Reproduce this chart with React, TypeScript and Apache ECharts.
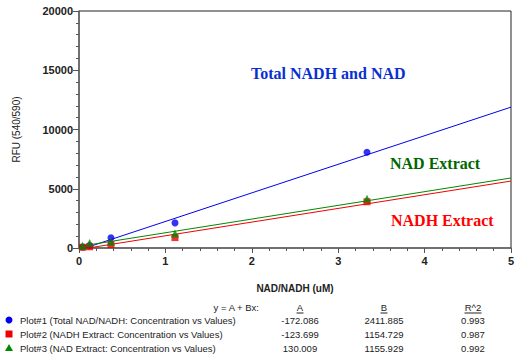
import React, { useEffect, useRef } from "react";
import * as echarts from "echarts";

const concentrations = [0.041, 0.123, 0.37, 1.111, 3.333];
const totalValues = [90, 200, 860, 2120, 8080];
const nadhValues = [60, 100, 290, 880, 3900];
const nadValues = [200, 420, 520, 1230, 4160];

const seriesNames = [
  "Plot#1 (Total NAD/NADH: Concentration vs Values)",
  "Plot#2 (NADH Extract: Concentration vs Values)",
  "Plot#3 (NAD Extract: Concentration vs Values)",
];
const fitA = [-172.086, -123.699, 130.009];
const fitB = [2411.885, 1154.729, 1155.929];
const fitAText = ["-172.086", "-123.699", "130.009"];
const fitBText = ["2411.885", "1154.729", "1155.929"];
const fitR2Text = ["0.993", "0.987", "0.992"];

const xTicks = [0, 1, 2, 3, 4, 5];
const yTicks = [0, 5000, 10000, 15000, 20000];

const colors = ["#0000ee", "#ee0000", "#008800"];
const symbols = ["circle", "rect", "triangle"];
const symbolSizes = [7, 7, 8];
const pointSets = [totalValues, nadhValues, nadValues];

export default function App() {
  const ref = useRef<HTMLDivElement>(null);
  useEffect(() => {
    document.body.style.margin = "0";
    if (!ref.current) return;
    const chart = echarts.init(ref.current, null, { renderer: "svg" });
    const xMax = xTicks[xTicks.length - 1];
    const lineSeries = fitA.map((a, i) => ({
      type: "line",
      data: [
        [xTicks[0], a],
        [xMax, a + fitB[i] * xMax],
      ],
      symbol: "none",
      lineStyle: { color: colors[i], width: 1 },
      clip: true,
      silent: true,
      z: 2,
    }));
    const scatterSeries = pointSets.map((vals, i) => ({
      type: "scatter",
      name: seriesNames[i],
      data: concentrations.map((c, j) => [c, vals[j]]),
      symbol: symbols[i],
      symbolSize: symbolSizes[i],
      itemStyle: { color: colors[i] },
      z: 3 + i,
    }));

    const font = "Arial, 'Liberation Sans', sans-serif";
    const tFont = `9.5px ${font}`;
    const rowsY = [320, 334, 348];
    const tableGraphics: any[] = [];
    tableGraphics.push({
      type: "text",
      x: 259,
      y: 307,
      style: { text: "y = A + Bx:", font: tFont, fill: "#222", align: "right", verticalAlign: "middle" },
    });
    const cols = [
      { x: 300, label: "A", vals: fitAText },
      { x: 384, label: "B", vals: fitBText },
      { x: 473, label: "R^2", vals: fitR2Text },
    ];
    cols.forEach((c) => {
      tableGraphics.push({
        type: "text",
        x: c.x,
        y: 307,
        style: { text: c.label, font: tFont, fill: "#222", align: "center", verticalAlign: "middle" },
      });
      const w = c.label.length === 1 ? 7 : 17;
      tableGraphics.push({
        type: "line",
        shape: { x1: c.x - w / 2, y1: 313, x2: c.x + w / 2, y2: 313 },
        style: { stroke: "#222", lineWidth: 1 },
      });
      c.vals.forEach((v, i) => {
        tableGraphics.push({
          type: "text",
          x: c.x,
          y: rowsY[i],
          style: { text: v, font: tFont, fill: "#222", align: "center", verticalAlign: "middle" },
        });
      });
    });
    seriesNames.forEach((n, i) => {
      tableGraphics.push({
        type: "text",
        x: 20,
        y: rowsY[i],
        style: { text: n, font: tFont, fill: "#222", align: "left", verticalAlign: "middle" },
      });
    });
    tableGraphics.push({ type: "circle", shape: { cx: 9, cy: rowsY[0], r: 3.5 }, style: { fill: colors[0] } });
    tableGraphics.push({ type: "rect", shape: { x: 5.5, y: rowsY[1] - 3.5, width: 7, height: 7 }, style: { fill: colors[1] } });
    tableGraphics.push({
      type: "polygon",
      shape: { points: [[9, rowsY[2] - 4], [13, rowsY[2] + 3], [5, rowsY[2] + 3]] },
      style: { fill: colors[2] },
    });

    const titleFont = "bold 16px 'Liberation Serif', 'Times New Roman', serif";
    const annotations = [
      { text: "Total NADH and NAD", x: 251, y: 73, color: "#0a2fd0" },
      { text: "NAD Extract", x: 390, y: 163, color: "#006600" },
      { text: "NADH Extract", x: 391, y: 220, color: "#ff0000" },
    ];

    chart.setOption({
      animation: false,
      backgroundColor: "#ffffff",
      grid: {
        left: 79,
        right: 8,
        top: 11,
        bottom: 110,
        show: true,
        borderColor: "#222",
        borderWidth: 1,
        containLabel: false,
      },
      xAxis: {
        type: "value",
        min: xTicks[0],
        max: xMax,
        interval: 1,
        name: "NAD/NADH (uM)",
        nameLocation: "middle",
        nameGap: 35,
        nameTextStyle: { fontFamily: font, fontWeight: "bold", fontSize: 10, color: "#222" },
        axisLine: { show: true, lineStyle: { color: "#666", width: 1.5 } },
        axisTick: { show: true, length: 5, lineStyle: { color: "#555" } },
        minorTick: { show: true, splitNumber: 5, length: 3, lineStyle: { color: "#555" } },
        splitLine: { show: false },
        axisLabel: { fontFamily: font, fontWeight: "bold", fontSize: 11, color: "#222", margin: 7 },
      },
      yAxis: {
        type: "value",
        min: yTicks[0],
        max: yTicks[yTicks.length - 1],
        interval: 5000,
        name: "RFU (540/590)",
        nameLocation: "middle",
        nameGap: 58,
        nameTextStyle: { fontFamily: font, fontSize: 10, color: "#222" },
        axisLine: { show: true, lineStyle: { color: "#666", width: 1.5 } },
        axisTick: { show: true, length: 6, lineStyle: { color: "#555" } },
        minorTick: { show: true, splitNumber: 5, length: 3, lineStyle: { color: "#555" } },
        splitLine: { show: false },
        axisLabel: {
          fontFamily: font,
          fontWeight: "bold",
          fontSize: 11,
          color: "#222",
          margin: 6,
          formatter: (v: number) => String(v),
        },
      },
      series: [...lineSeries, ...scatterSeries],
      graphic: [
        ...annotations.map((a) => ({
          type: "text",
          x: a.x,
          y: a.y,
          z: 10,
          style: { text: a.text, font: titleFont, fill: a.color, align: "left", verticalAlign: "middle" },
        })),
        ...tableGraphics,
      ],
    });
    return () => chart.dispose();
  }, []);
  return <div ref={ref} style={{ width: 519, height: 358 }} />;
}
